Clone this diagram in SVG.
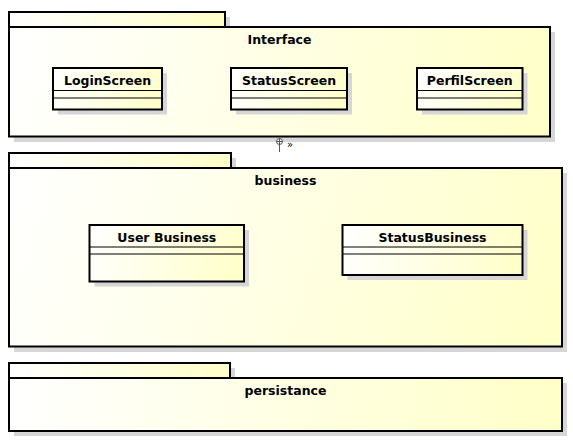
<svg xmlns="http://www.w3.org/2000/svg" width="573" height="445" viewBox="0 0 573 445">
<style>
.sh{fill:#d6d6d6;stroke:none}
.pk{stroke:#000;stroke-width:2}
.cl{stroke:#000;stroke-width:2}
.ln{stroke:#000;stroke-width:1.2;fill:none}
.t{font-family:"DejaVu Sans",sans-serif;font-weight:bold;font-size:12.5px;fill:#000;text-anchor:middle}
.s0{stop-color:#ffffff}
.s1{stop-color:#ffffc8}
</style>
<defs>
<linearGradient id="gIt" gradientUnits="userSpaceOnUse" x1="9" y1="12" x2="225" y2="27"><stop offset="0" class="s0"/><stop offset="1" class="s1"/></linearGradient>
<linearGradient id="gIb" gradientUnits="userSpaceOnUse" x1="9" y1="27" x2="550" y2="136.5"><stop offset="0" class="s0"/><stop offset="1" class="s1"/></linearGradient>
<linearGradient id="gL" gradientUnits="userSpaceOnUse" x1="53" y1="68" x2="162" y2="109.5"><stop offset="0" class="s0"/><stop offset="1" class="s1"/></linearGradient>
<linearGradient id="gS" gradientUnits="userSpaceOnUse" x1="231" y1="68" x2="347" y2="109.5"><stop offset="0" class="s0"/><stop offset="1" class="s1"/></linearGradient>
<linearGradient id="gP" gradientUnits="userSpaceOnUse" x1="417" y1="68" x2="522.5" y2="109.5"><stop offset="0" class="s0"/><stop offset="1" class="s1"/></linearGradient>
<linearGradient id="gBt" gradientUnits="userSpaceOnUse" x1="9" y1="153" x2="231" y2="168"><stop offset="0" class="s0"/><stop offset="1" class="s1"/></linearGradient>
<linearGradient id="gBb" gradientUnits="userSpaceOnUse" x1="9" y1="168" x2="562" y2="346.5"><stop offset="0" class="s0"/><stop offset="1" class="s1"/></linearGradient>
<linearGradient id="gU" gradientUnits="userSpaceOnUse" x1="89.5" y1="225" x2="244" y2="281.5"><stop offset="0" class="s0"/><stop offset="1" class="s1"/></linearGradient>
<linearGradient id="gSB" gradientUnits="userSpaceOnUse" x1="342.5" y1="225" x2="522.5" y2="275"><stop offset="0" class="s0"/><stop offset="1" class="s1"/></linearGradient>
<linearGradient id="gPt" gradientUnits="userSpaceOnUse" x1="9" y1="363" x2="230" y2="378"><stop offset="0" class="s0"/><stop offset="1" class="s1"/></linearGradient>
<linearGradient id="gPb" gradientUnits="userSpaceOnUse" x1="9" y1="378" x2="562" y2="431"><stop offset="0" class="s0"/><stop offset="1" class="s1"/></linearGradient>
</defs>
<rect width="573" height="445" fill="#fff"/>

<g id="pkg-interface">
<rect class="sh" x="14" y="17" width="216" height="15"/>
<rect class="sh" x="14" y="32" width="541" height="110"/>
<rect class="pk" fill="url(#gIt)" x="9" y="12" width="216" height="15"/>
<rect class="pk" fill="url(#gIb)" x="9" y="27" width="541" height="109.5"/>
<text class="t" x="279.5" y="44">Interface</text>
</g>

<g id="cls-loginscreen">
<rect class="sh" x="58" y="73" width="109" height="41.5"/>
<rect class="cl" fill="url(#gL)" x="53" y="68" width="109" height="41.5"/>
<line class="ln" x1="53" y1="90.5" x2="162" y2="90.5"/>
<line class="ln" x1="53" y1="98" x2="162" y2="98"/>
<text class="t" x="107.5" y="85">LoginScreen</text>
</g>

<g id="cls-statusscreen">
<rect class="sh" x="236" y="73" width="116" height="41.5"/>
<rect class="cl" fill="url(#gS)" x="231" y="68" width="116" height="41.5"/>
<line class="ln" x1="231" y1="90.5" x2="347" y2="90.5"/>
<line class="ln" x1="231" y1="98" x2="347" y2="98"/>
<text class="t" x="289" y="85">StatusScreen</text>
</g>

<g id="cls-perfilscreen">
<rect class="sh" x="422" y="73" width="105.5" height="41.5"/>
<rect class="cl" fill="url(#gP)" x="417" y="68" width="105.5" height="41.5"/>
<line class="ln" x1="417" y1="90.5" x2="522.5" y2="90.5"/>
<line class="ln" x1="417" y1="98" x2="522.5" y2="98"/>
<text class="t" x="469.7" y="85">PerfilScreen</text>
</g>

<g id="pkg-business">
<rect class="sh" x="14" y="158" width="222" height="15"/>
<rect class="sh" x="14" y="173" width="553" height="179"/>
<rect class="pk" fill="url(#gBt)" x="9" y="153" width="222" height="15"/>
<rect class="pk" fill="url(#gBb)" x="9" y="168" width="553" height="178.5"/>
<text class="t" x="285.5" y="185">business</text>
</g>

<g id="cls-userbusiness">
<rect class="sh" x="94.5" y="230" width="154.5" height="56.5"/>
<rect class="cl" fill="url(#gU)" x="89.5" y="225" width="154.5" height="56.5"/>
<line class="ln" x1="89.5" y1="247" x2="244" y2="247"/>
<line class="ln" x1="89.5" y1="254" x2="244" y2="254"/>
<text class="t" x="166.8" y="241.5">User Business</text>
</g>

<g id="cls-statusbusiness">
<rect class="sh" x="347.5" y="230" width="180" height="50"/>
<rect class="cl" fill="url(#gSB)" x="342.5" y="225" width="180" height="50"/>
<line class="ln" x1="342.5" y1="247" x2="522.5" y2="247"/>
<line class="ln" x1="342.5" y1="254" x2="522.5" y2="254"/>
<text class="t" x="432.5" y="241.5">StatusBusiness</text>
</g>

<g id="pkg-persistance">
<rect class="sh" x="14" y="368" width="221" height="15"/>
<rect class="sh" x="14" y="383" width="553" height="53"/>
<rect class="pk" fill="url(#gPt)" x="9" y="363" width="221" height="15"/>
<rect class="pk" fill="url(#gPb)" x="9" y="378" width="553" height="53"/>
<text class="t" x="285.5" y="395">persistance</text>
</g>

<g id="connectors">
<circle cx="279.5" cy="141.5" r="3" fill="#fff" stroke="#555" stroke-width="1"/>
<line x1="276.5" y1="141.5" x2="282.5" y2="141.5" stroke="#555" stroke-width="1"/>
<line x1="279.5" y1="138.5" x2="279.5" y2="152" stroke="#555" stroke-width="1"/>
<text x="287" y="148" font-family="DejaVu Sans, sans-serif" font-size="10" fill="#000">»</text>
</g>
</svg>
